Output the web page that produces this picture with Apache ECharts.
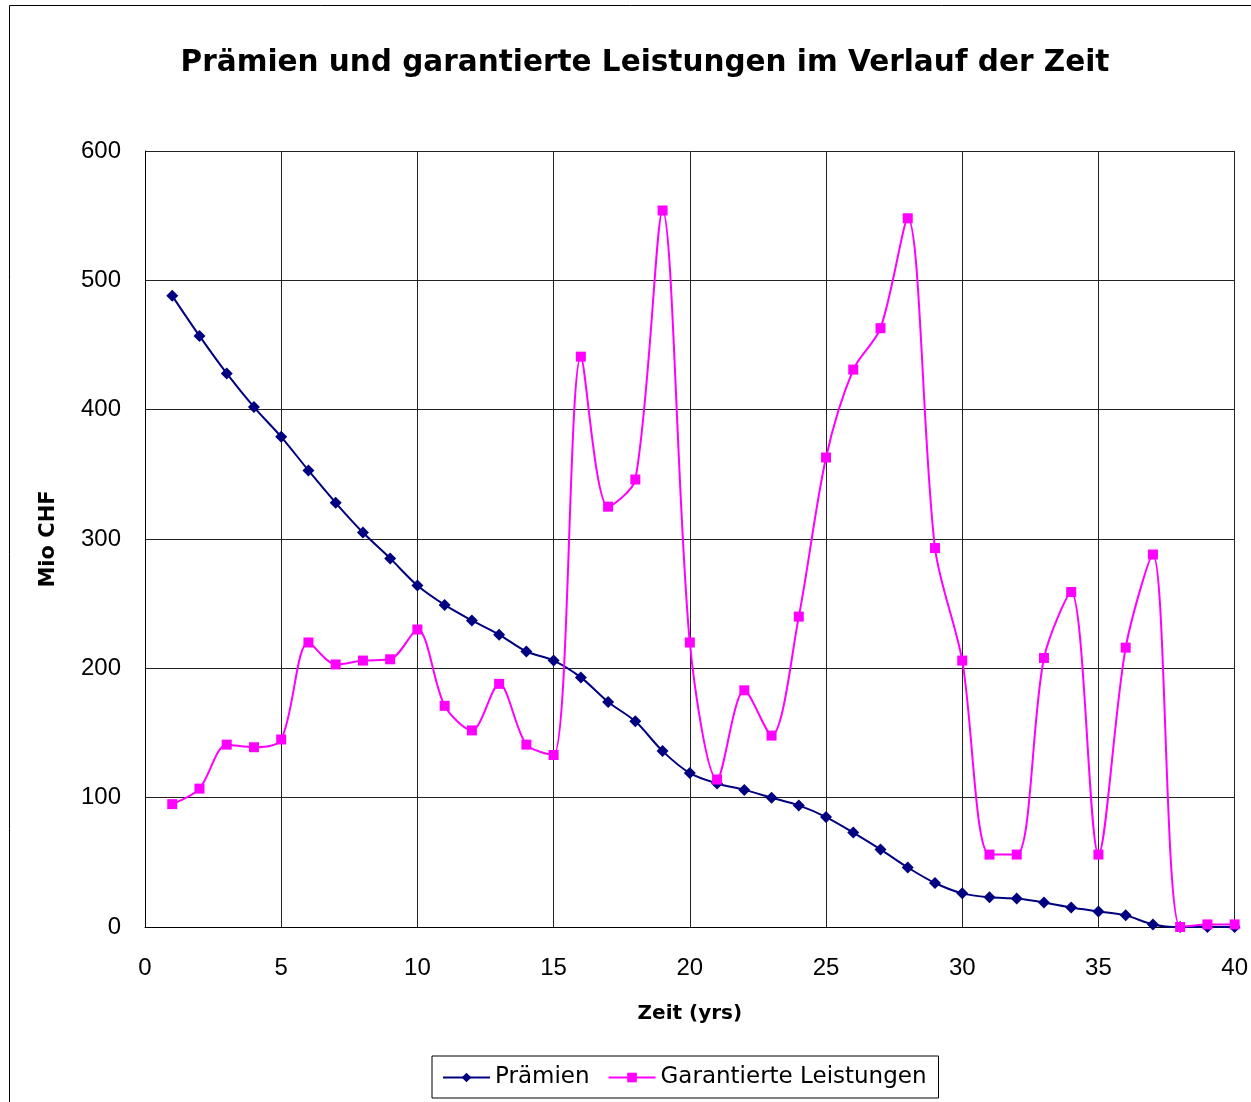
<!DOCTYPE html>
<html>
<head>
<meta charset="utf-8">
<script src="https://cdn.jsdelivr.net/npm/echarts@6/dist/echarts.min.js"></script>
<style>
  html, body { margin: 0; padding: 0; background: #fff; }
  #chart { width: 1251px; height: 1102px; }
</style>
</head>
<body>
<div id="chart"></div>
<script>
// Jahre 1..40
const years = Array.from({ length: 40 }, (_, i) => i + 1)

// Prämien (Mio CHF)
const praemien = [488, 457, 428, 402, 379, 353, 328, 305, 285, 264,
  249, 237, 226, 213, 206, 193, 174, 159, 136, 119,
  111, 106, 100, 94, 85, 73, 60, 46, 34, 26,
  23, 22, 19, 15, 12, 9, 2, 0, 0, 0]

// Garantierte Leistungen (Mio CHF)
const leistungen = [95, 107, 141, 139, 145, 220, 203, 206, 207, 230,
  171, 152, 188, 141, 133, 441, 325, 346, 554, 220,
  114, 183, 148, 240, 363, 431, 463, 548, 293, 206,
  56, 56, 208, 259, 56, 216, 288, 0, 2, 2]

const xTicks = [0, 5, 10, 15, 20, 25, 30, 35, 40]
const yTicks = [0, 100, 200, 300, 400, 500, 600]

const font = 'Liberation Sans, Arial, sans-serif'
const wideFont = 'DejaVu Sans, sans-serif'
const chart = echarts.init(document.getElementById('chart'))

const option = {
  backgroundColor: '#fff',
  animation: false,
  title: {
    text: 'Prämien und garantierte Leistungen im Verlauf der Zeit',
    left: 640,
    top: 43,
    textAlign: 'center',
    textStyle: { fontFamily: wideFont, fontSize: 29.5, fontWeight: 'bold', color: '#000' }
  },
  graphic: [{
    type: 'rect',
    shape: { x: 9.5, y: 5.5, width: 1250, height: 1110 },
    style: { fill: 'none', stroke: '#000', lineWidth: 1 },
    silent: true
  }],
  legend: {
    top: 1056,
    left: 432,
    itemGap: 18,
    itemWidth: 47,
    itemHeight: 12,
    padding: [10, 12, 9, 10],
    borderColor: '#000',
    borderWidth: 1,
    textStyle: { fontFamily: wideFont, fontSize: 23, color: '#000' },
    data: ['Prämien', 'Garantierte Leistungen']
  },
  grid: { left: 145, right: 16, top: 151, bottom: 175 },
  xAxis: {
    type: 'value',
    min: 0, max: 40, interval: 5,
    name: 'Zeit (yrs)',
    nameLocation: 'middle',
    nameGap: 77,
    nameTextStyle: { fontFamily: wideFont, fontSize: 20, fontWeight: 'bold', color: '#000' },
    axisLine: { show: true, lineStyle: { color: '#000' } },
    axisTick: { show: false },
    axisLabel: { fontFamily: font, fontSize: 24, color: '#000', margin: 29,
      formatter: v => xTicks.includes(v) ? String(v) : '' },
    splitLine: { show: true, lineStyle: { color: '#222', width: 1 } }
  },
  yAxis: {
    type: 'value',
    min: 0, max: 600, interval: 100,
    name: 'Mio CHF',
    nameLocation: 'middle',
    nameGap: 86,
    nameRotate: 90,
    nameTextStyle: { fontFamily: wideFont, fontSize: 21, fontWeight: 'bold', color: '#000' },
    axisLine: { show: true, lineStyle: { color: '#000' } },
    axisTick: { show: false },
    axisLabel: { fontFamily: font, fontSize: 24, color: '#000', margin: 24,
      formatter: v => yTicks.includes(v) ? String(v) : '' },
    splitLine: { show: true, lineStyle: { color: '#222', width: 1 } }
  },
  series: [
    {
      name: 'Prämien',
      type: 'line',
      data: years.map((x, i) => [x, praemien[i]]),
      smooth: 0.3,
      symbol: 'diamond',
      symbolSize: 12,
      lineStyle: { color: '#000080', width: 2 },
      itemStyle: { color: '#000080' }
    },
    {
      name: 'Garantierte Leistungen',
      type: 'line',
      data: years.map((x, i) => [x, leistungen[i]]),
      smooth: 0.3,
      symbol: 'rect',
      symbolSize: 10,
      lineStyle: { color: '#ff00ff', width: 2 },
      itemStyle: { color: '#ff00ff' }
    }
  ]
}

chart.setOption(option)
</script>
</body>
</html>
